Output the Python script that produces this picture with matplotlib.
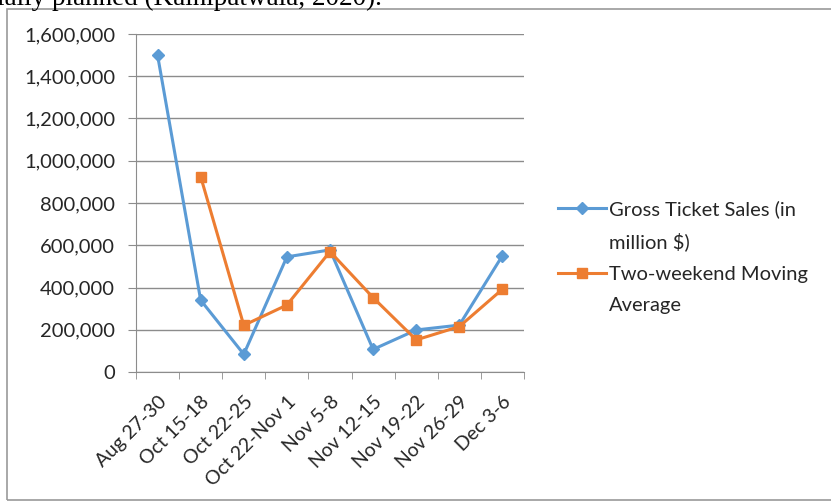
import matplotlib.pyplot as plt
import numpy as np
from matplotlib.ticker import FuncFormatter, FixedLocator
from matplotlib.patches import Rectangle
from matplotlib.lines import Line2D

weekends = ["Aug 27-30", "Oct 15-18", "Oct 22-25", "Oct 22-Nov 1", "Nov 5-8",
            "Nov 12-15", "Nov 19-22", "Nov 26-29", "Dec 3-6"]
gross = [1500000, 340000, 84000, 545000, 578000, 107000, 199000, 222000, 551000]
moving_avg = [np.nan, 925000, 221000, 317000, 570000, 352000, 152000, 215000, 392000]

plt.rcParams['font.family'] = ['Lato', 'DejaVu Sans']
txt_col = "#262626"

fig = plt.figure(figsize=(8.31, 5.04), dpi=100)

# chart frame from the document
fig.patches.append(Rectangle((7 / 831, 4 / 504), 830 / 831, 491 / 504,
                             transform=fig.transFigure, fill=False,
                             edgecolor="#9a9a9a", lw=1.2))
# cut off sentence above the chart
fig.text(-0.004, 1 - 5 / 504, "ially planned (Kalnipatwala, 2020).",
         family="Liberation Serif", fontsize=19.5, va="baseline", ha="left")

ax = fig.add_axes([136 / 831, 1 - 372 / 504, (524 - 136) / 831, (372 - 34) / 504])

x = np.arange(len(weekends))
l1, = ax.plot(x, gross, color="#5B9BD5", lw=2.2, marker="D", ms=6.5)
l2, = ax.plot(x, moving_avg, color="#ED7D31", lw=2.2, marker="s", ms=7)

ax.set_xlim(-0.5, len(weekends) - 0.5)
ax.set_ylim(0, 1600000)
ax.set_yticks(np.arange(0, 1600001, 200000))
ax.yaxis.set_major_formatter(FuncFormatter(lambda v, p: f"{int(v):,}"))
ax.grid(axis="y", color="#8c8c8c", lw=1)
ax.set_axisbelow(True)

ax.set_xticks(x)
ax.set_xticklabels(weekends, rotation=45, ha="right", va="top", rotation_mode="anchor")
ax.xaxis.set_minor_locator(FixedLocator(np.arange(-0.5, len(weekends), 1)))
ax.tick_params(axis="x", which="major", length=0, pad=15, labelsize=14, labelcolor=txt_col)
ax.tick_params(axis="x", which="minor", length=5, color="#8c8c8c", direction="out")
ax.tick_params(axis="y", length=6, color="#8c8c8c", labelsize=14.5, pad=9, labelcolor=txt_col)

for s in ["top", "right"]:
    ax.spines[s].set_visible(False)
for s in ["left", "bottom"]:
    ax.spines[s].set_color("#8c8c8c")

# legend: marker sits beside the first line of each label (Excel style)
blank = Line2D([], [], color="none")
handles = [l1, blank, l2, blank]
labels = ["Gross Ticket Sales (in", "million $)", "Two-weekend Moving", "Average"]
leg = ax.legend(handles, labels, loc="center left", bbox_to_anchor=(1.04, 0.34),
                frameon=False, fontsize=14.5, handlelength=2.4, handletextpad=0.15,
                labelspacing=0.72)
for t in leg.get_texts():
    t.set_color(txt_col)

fig.savefig("out.png", dpi=100)
